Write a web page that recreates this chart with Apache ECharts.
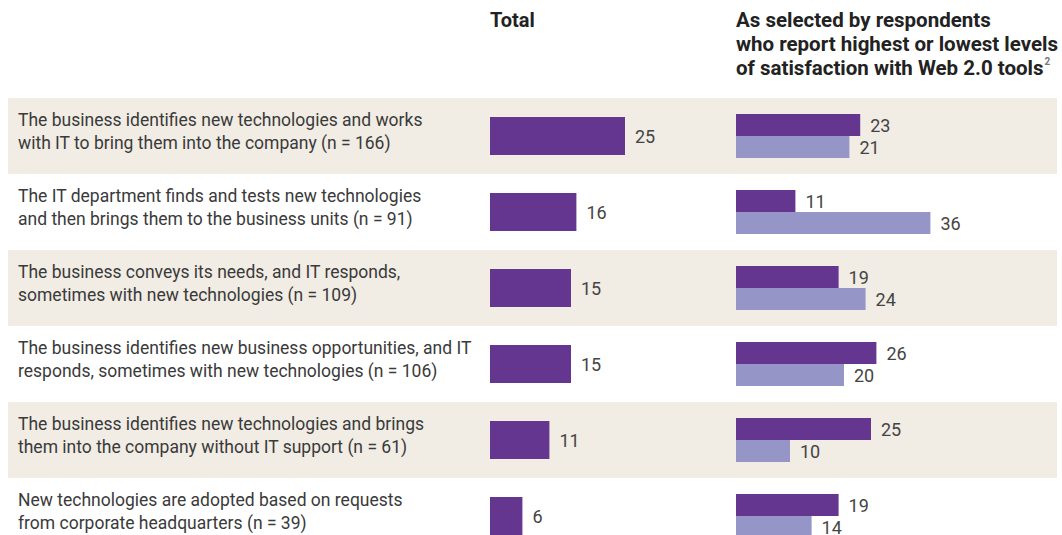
<!DOCTYPE html>
<html>
<head>
<meta charset="utf-8">
<script src="https://cdn.jsdelivr.net/npm/echarts@6/dist/echarts.min.js"></script>
<style>
  html, body { margin: 0; padding: 0; background: #fff; }
  #main { width: 1062px; height: 535px; }
</style>
</head>
<body>
<div id="main"></div>
<script>
// rows, top to bottom
const categories = [
  'The business identifies new technologies and works\nwith IT to bring them into the company (n = 166)',
  'The IT department finds and tests new technologies\nand then brings them to the business units (n = 91)',
  'The business conveys its needs, and IT responds,\nsometimes with new technologies (n = 109)',
  'The business identifies new business opportunities, and IT\nresponds, sometimes with new technologies (n = 106)',
  'The business identifies new technologies and brings\nthem into the company without IT support (n = 61)',
  'New technologies are adopted based on requests\nfrom corporate headquarters (n = 39)'
]
const totalValues = [25, 16, 15, 15, 11, 6]
const highestValues = [23, 11, 19, 26, 25, 19] // highest satisfaction
const lowestValues = [21, 36, 24, 20, 10, 14] // lowest satisfaction

const narrow = '"Liberation Sans Narrow", Roboto, sans-serif'
const dark = '#64368f'
const light = '#9595c8'
const labelStyle = { show: true, position: 'right', distance: 10, fontFamily: narrow, fontSize: 18, color: '#444' }

const chart = echarts.init(document.getElementById('main'), null, { renderer: 'svg' })

// all grids share the same vertical band: 6 rows of 76px from y=98 (last row runs off the bottom)
const rowTop = 98
const rowsHeight = 76 * categories.length

chart.setOption({
  backgroundColor: '#fff',
  animation: false,
  title: [{
    text: 'Total',
    left: 490, top: 10, padding: 0,
    textStyle: { fontFamily: narrow, fontWeight: 'bold', fontSize: 20, color: '#222' }
  }, {
    text: 'As selected by respondents\nwho report highest or lowest levels\nof satisfaction with Web 2.0 tools{sup|2}',
    left: 736, top: 8, padding: 0,
    textStyle: {
      fontFamily: narrow, fontWeight: 'bold', fontSize: 20.5, lineHeight: 24, color: '#222',
      rich: { sup: { fontSize: 10, verticalAlign: 'top', color: '#777', padding: [0, 0, 10, 1] } }
    }
  }],
  grid: [
    { left: 8, top: rowTop, width: 1049, height: rowsHeight, outerBoundsMode: 'none' }, // background bands
    { left: 490, top: rowTop, width: 216, height: rowsHeight, outerBoundsMode: 'none' }, // total
    { left: 736, top: rowTop, width: 216, height: rowsHeight, outerBoundsMode: 'none' }, // highest / lowest
    { left: 8, top: rowTop - 5, width: 470, height: rowsHeight, outerBoundsMode: 'none' } // row labels sit a bit high
  ],
  xAxis: [
    { gridIndex: 0, type: 'value', min: 0, max: 1, show: false },
    { gridIndex: 1, type: 'value', min: 0, max: 40, show: false },
    { gridIndex: 2, type: 'value', min: 0, max: 40, show: false },
    { gridIndex: 3, type: 'value', min: 0, max: 1, show: false }
  ],
  yAxis: [{
    gridIndex: 0,
    type: 'category',
    inverse: true,
    data: categories,
    axisLine: { show: false },
    axisTick: { show: false },
    axisLabel: { show: false },
    splitArea: { show: true, areaStyle: { color: ['#f1ece4', '#ffffff'] } }
  }, {
    gridIndex: 1, type: 'category', inverse: true, data: categories, show: false
  }, {
    gridIndex: 2, type: 'category', inverse: true, data: categories, show: false
  }, {
    gridIndex: 3,
    type: 'category',
    inverse: true,
    data: categories,
    axisLine: { show: false },
    axisTick: { show: false },
    axisLabel: {
      inside: true, margin: 10, align: 'left',
      fontFamily: narrow, fontSize: 17.5, lineHeight: 23, color: '#3a3a3a'
    }
  }],
  series: [{
    name: 'Total',
    type: 'bar',
    xAxisIndex: 1, yAxisIndex: 1,
    data: totalValues,
    barWidth: 38,
    itemStyle: { color: dark },
    label: labelStyle
  }, {
    name: 'Highest satisfaction',
    type: 'bar',
    xAxisIndex: 2, yAxisIndex: 2,
    data: highestValues,
    barWidth: 22,
    barGap: '0%',
    itemStyle: { color: dark },
    label: labelStyle
  }, {
    name: 'Lowest satisfaction',
    type: 'bar',
    xAxisIndex: 2, yAxisIndex: 2,
    data: lowestValues,
    barWidth: 22,
    barGap: '0%',
    itemStyle: { color: light },
    label: labelStyle
  }]
})
</script>
</body>
</html>
